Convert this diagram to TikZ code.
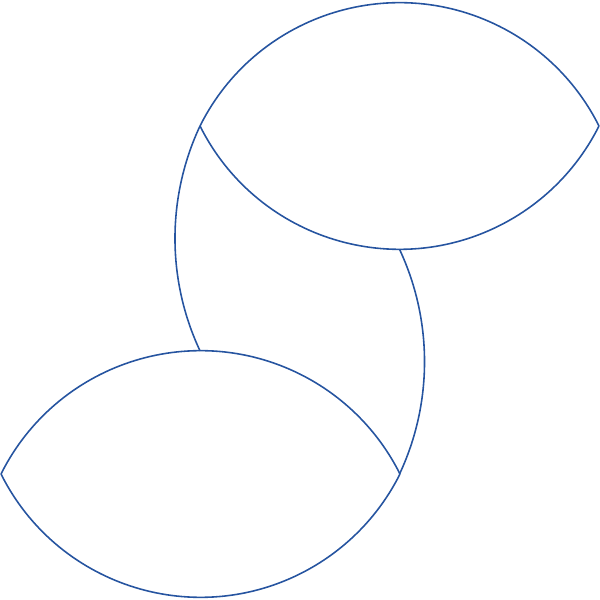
\documentclass[tikz,border=0pt]{standalone}
\usepackage{xcolor}
\usetikzlibrary{calc}
\definecolor{lensblue}{RGB}{38,84,160}
\tikzset{
		lensline/.style={draw=lensblue, line width=0.45pt}
	}
\tikzset{pics/lens/.style={code={ \draw[lensline] (0,0) arc[start angle=153.435, end angle=26.565, radius=223.05] (0,0) arc[start angle=206.565, end angle=333.435, radius=223.05]; }}}

\begin{document}
\begin{tikzpicture}[x=0.1mm, y=0.1mm] % (each unit = one pixel of the picture)
		\useasboundingbox (0,0) rectangle (600,600);
		\coordinate (A) at (200,474); % left tip, upper lens
		\coordinate (C) at (1,126);   % left tip, lower lens
		\coordinate (P) at (399.5,350.7); % bottom of upper lens
		\draw (A) pic{lens} (C) pic{lens};
		\draw[lensline] (A) arc[start angle=154.9, end angle=205.1, radius=265];
		\draw[lensline] (P) arc[start angle=25.1, end angle=-25.1, radius=265];
	\end{tikzpicture}
\end{document}
